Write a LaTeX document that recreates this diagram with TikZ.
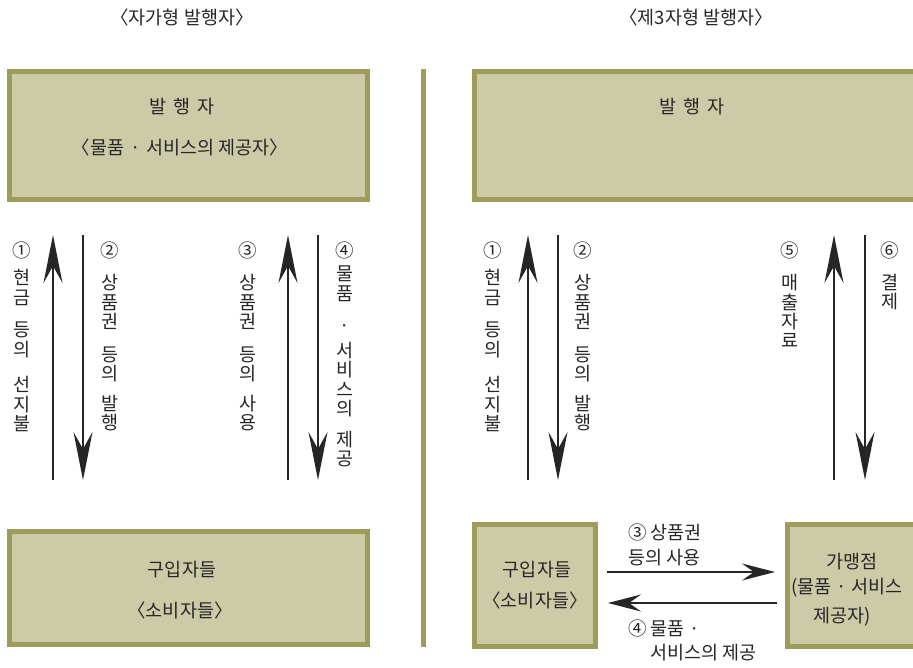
\documentclass[tikz,border=0pt]{standalone}
\usepackage{fontspec}
\newfontfamily\kr{Noto Sans CJK KR}
\usetikzlibrary{arrows.meta}
\definecolor{boxedge}{HTML}{9E9C5A}
\definecolor{boxfill}{HTML}{CDCAA8}
\begin{document}
\begin{tikzpicture}[x=1pt,y=-1pt,
  every node/.style={font=\kr\fontsize{18.5}{19.5}\selectfont, inner sep=0pt, text=black!85},
  panel/.style={draw=boxedge, fill=boxfill, line width=5pt},
  bigarrow/.style={line width=1.4pt, draw=black!85, -{Stealth[length=48pt,width=19pt,inset=17pt]}},
  smallarrow/.style={line width=1.4pt, draw=black!85, -{Stealth[length=33pt,width=17pt,inset=12pt]}},
  vlabel/.style={anchor=north, align=center},
  hlabel/.style={anchor=west}]
\useasboundingbox (0,0) rectangle (913,668);
\clip (0,0) rectangle (913,668);

% titles
\node (t1) at (182,17) {〈자가형 발행자〉};
\node (t2) at (696,17) {〈제3자형 발행자〉};

% panels
\node[panel, minimum width=358pt, minimum height=128pt] (pubL) at (188.5,135.5) {};
\node[panel, minimum width=358pt, minimum height=113pt] (buyL) at (188.5,588) {};
\node[panel, minimum width=443pt, minimum height=128pt] (pubR) at (696,135.5) {};
\node[panel, minimum width=121pt, minimum height=122pt] (buyR) at (535,585.5) {};
\node[panel, minimum width=130pt, minimum height=122pt] (shop) at (852.5,585.5) {};

% divider
\draw[boxedge, line width=5pt] (423.5,69) -- (423.5,647);

% panel texts
\node (pubLa) at (182,107) {발\hspace{7pt}행\hspace{7pt}자};
\node (pubLb) at (180,147) {〈물품\hspace{6pt}·\hspace{6pt}서비스의 제공자〉};
\node (buyLa) at (182,570) {구입자들};
\node (buyLb) at (180,610) {〈소비자들〉};
\node (pubRa) at (692,107) {발\hspace{7pt}행\hspace{7pt}자};
\node (buyRa) at (537,570) {구입자들};
\node (buyRb) at (535,600) {〈소비자들〉};
\node (shopa) at (852,562) {가맹점};
\node[hlabel] (shopb) at (791,588) {(물품\hspace{5pt}·\hspace{5pt}서비스};
\node (shopc) at (842,617) {제공자)};

% vertical arrows, left
\coordinate (l1a) at (53,480);  \coordinate (l1b) at (53,235);
\coordinate (l2a) at (83,235);  \coordinate (l2b) at (83,480);
\coordinate (l3a) at (288,480); \coordinate (l3b) at (288,235);
\coordinate (l4a) at (318,235); \coordinate (l4b) at (318,480);
\draw[bigarrow] (l1a) -- (l1b);
\draw[bigarrow] (l2a) -- (l2b);
\draw[bigarrow] (l3a) -- (l3b);
\draw[bigarrow] (l4a) -- (l4b);

% vertical arrows, right
\coordinate (r1a) at (528,480); \coordinate (r1b) at (528,235);
\coordinate (r2a) at (558,235); \coordinate (r2b) at (558,480);
\coordinate (r5a) at (834,480); \coordinate (r5b) at (834,235);
\coordinate (r6a) at (865,235); \coordinate (r6b) at (865,480);
\draw[bigarrow] (r1a) -- (r1b);
\draw[bigarrow] (r2a) -- (r2b);
\draw[bigarrow] (r5a) -- (r5b);
\draw[bigarrow] (r6a) -- (r6b);

% horizontal arrows
\coordinate (h1a) at (607,572); \coordinate (h1b) at (775,572);
\draw[smallarrow] (h1a) -- (h1b);
\coordinate (h2a) at (777,603); \coordinate (h2b) at (608,603);
\draw[smallarrow] (h2a) -- (h2b);

% labels left
\node (n1) at (22,250) {①};
\node[vlabel] (v1) at (22,269) {현\\금\\[13pt]등\\의\\[16pt]선\\지\\불};
\node (n2) at (110,250) {②};
\node[vlabel] (v2) at (110,274) {상\\품\\권\\[13pt]등\\의\\[10pt]발\\행};
\node (n3) at (248,250) {③};
\node[vlabel] (v3) at (248,274) {상\\품\\권\\[13pt]등\\의\\[10pt]사\\용};
\node (n4) at (345,250) {④};
\node[vlabel] (v4) at (345,266) {물\\품\\[13pt]·\\[5pt]서\\비\\스\\의\\[11pt]제\\공};

% labels right
\node (m1) at (493,250) {①};
\node[vlabel] (w1) at (493,269) {현\\금\\[13pt]등\\의\\[16pt]선\\지\\불};
\node (m2) at (583,250) {②};
\node[vlabel] (w2) at (583,274) {상\\품\\권\\[13pt]등\\의\\[10pt]발\\행};
\node (m5) at (790,250) {⑤};
\node[vlabel] (w5) at (790,274) {매\\출\\자\\료};
\node (m6) at (890,250) {⑥};
\node[vlabel] (w6) at (890,274) {결\\제};

% horizontal labels
\node[hlabel] (hl1) at (628,532) {③ 상품권};
\node[hlabel] (hl2) at (628,558) {등의 사용};
\node[hlabel] (hl3) at (628,628) {④ 물품 ·};
\node[hlabel] (hl4) at (650,653) {서비스의 제공};
\end{tikzpicture}
\end{document}
